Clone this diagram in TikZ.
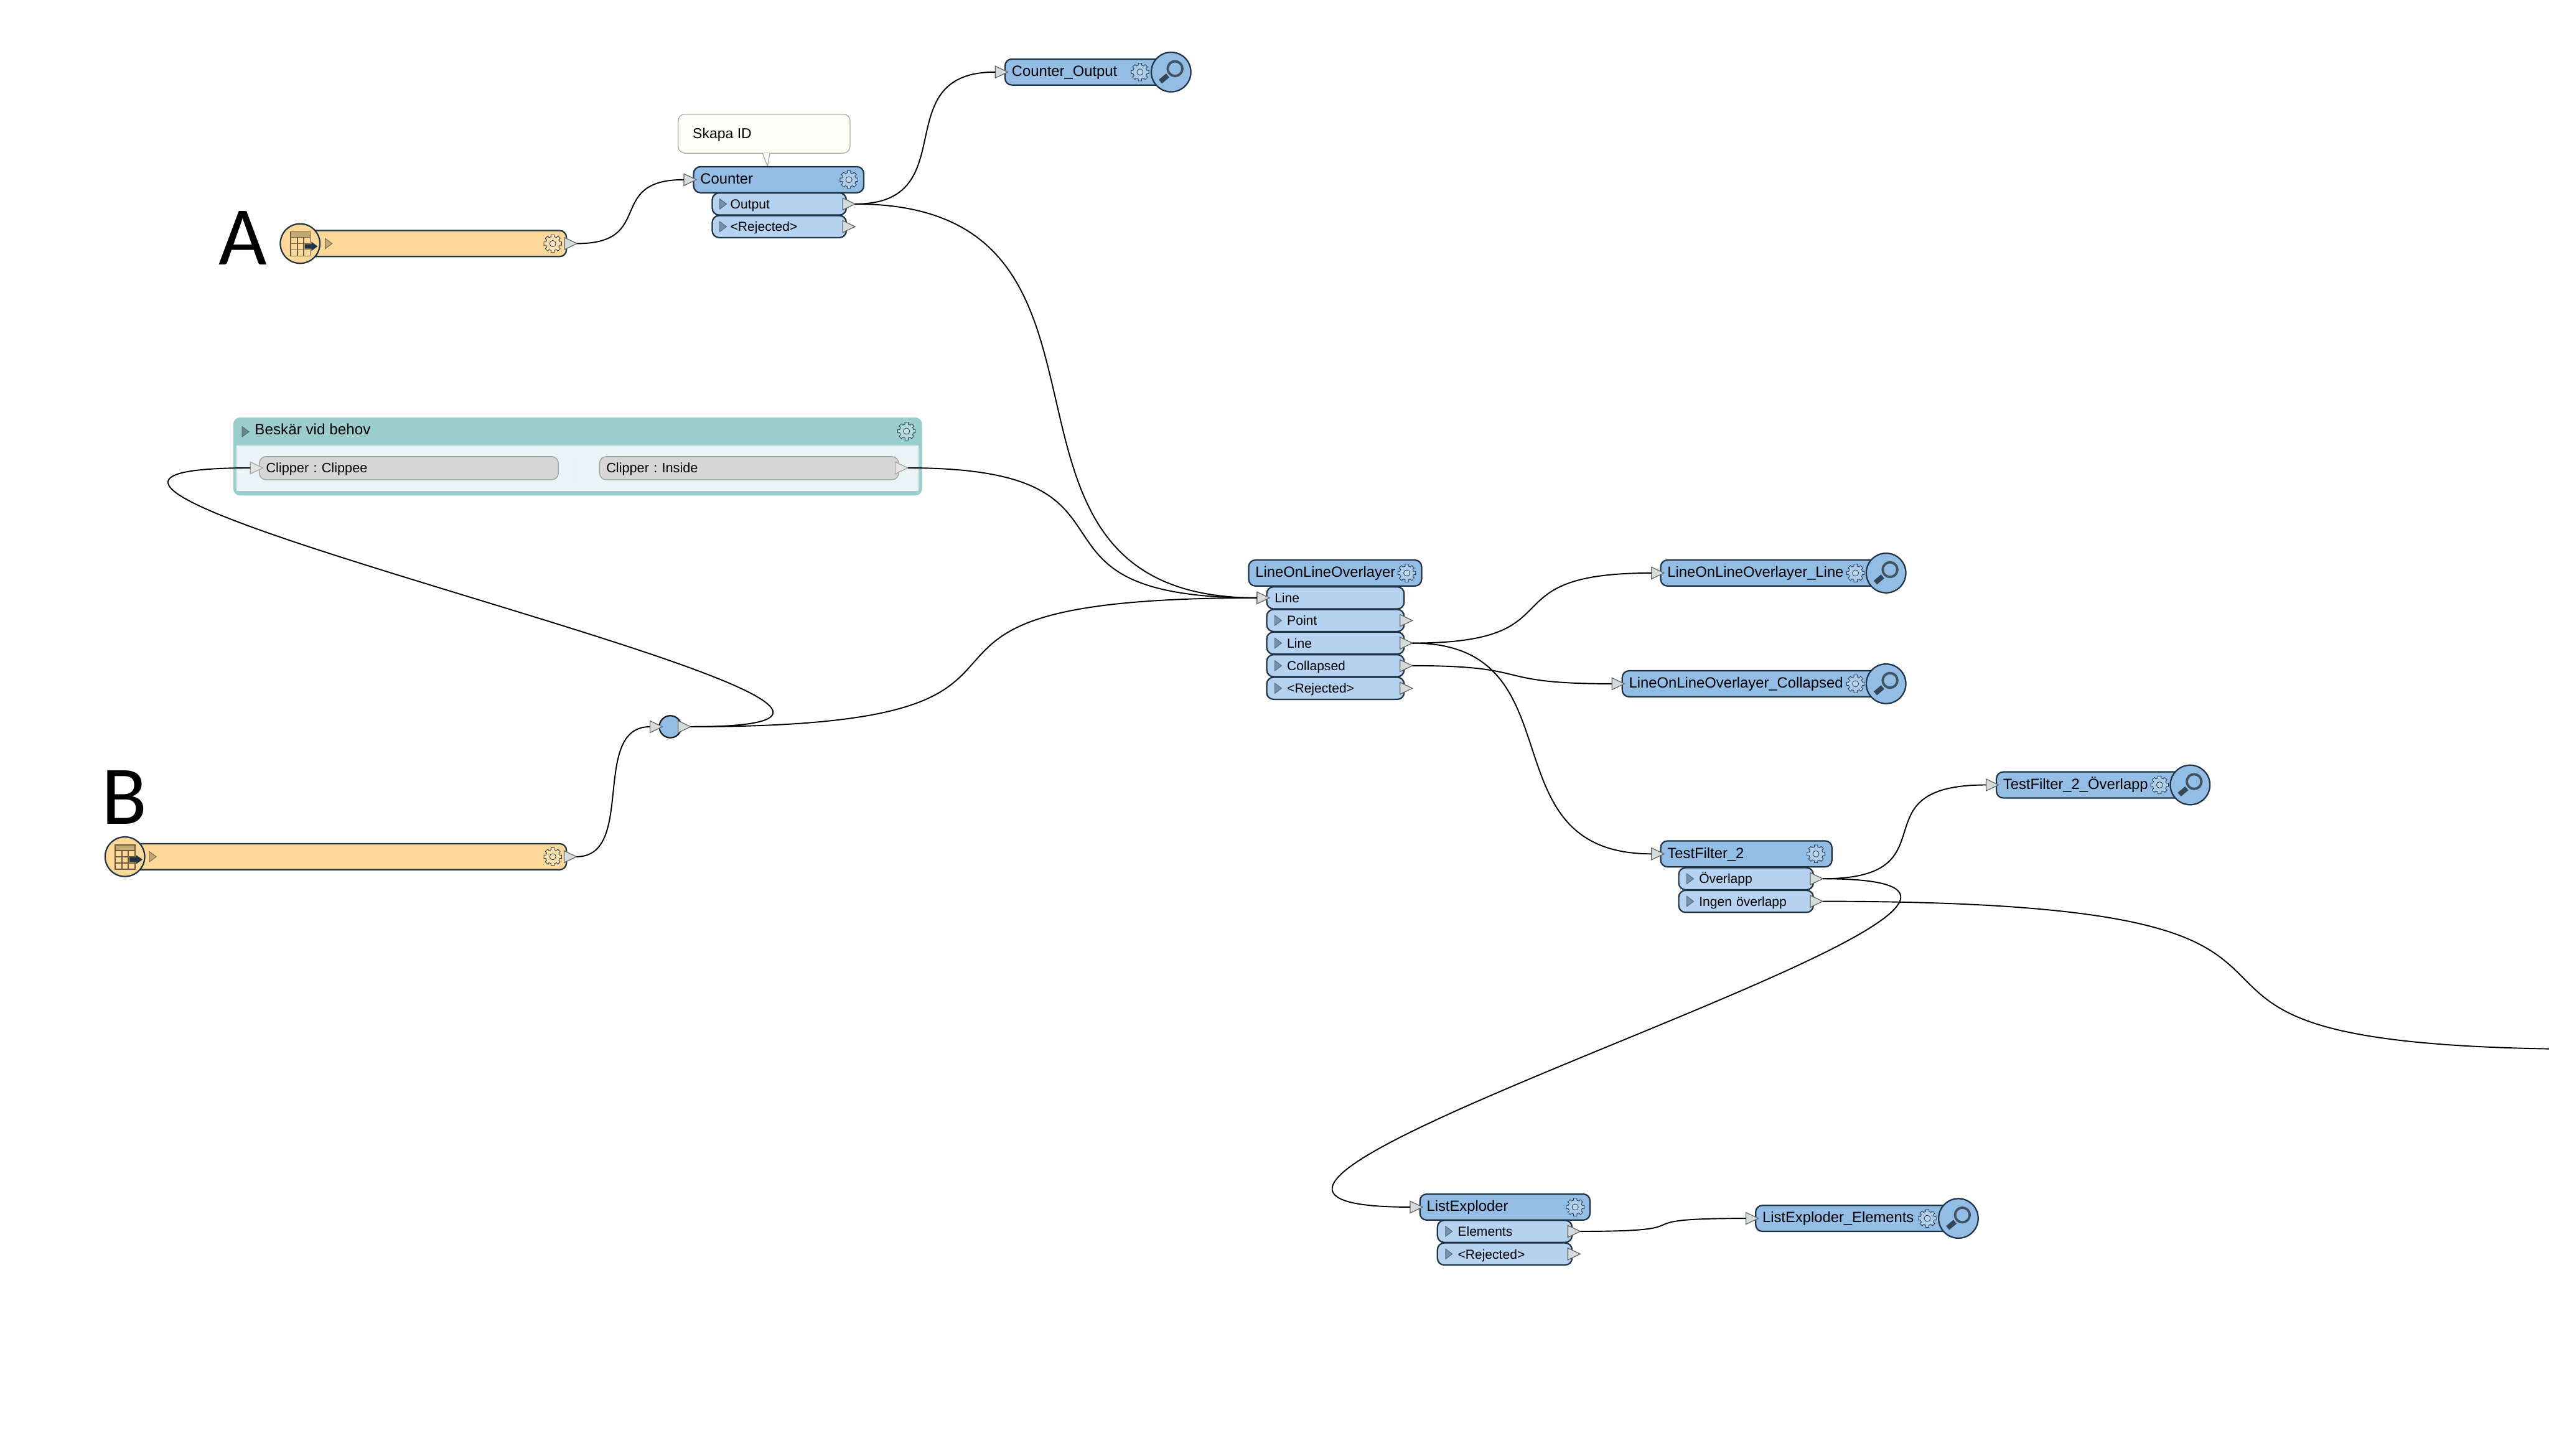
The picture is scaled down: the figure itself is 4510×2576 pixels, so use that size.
\documentclass[tikz,border=0pt]{standalone}
\usepackage{fontspec}
\setmainfont{Liberation Sans}
\newfontfamily\letterfont{Carlito}
\usepackage{tikz}
\usetikzlibrary{shapes.geometric,positioning}
\frenchspacing

\definecolor{xfblue}{HTML}{94BDE6}
\definecolor{xfport}{HTML}{B5D3F0}
\definecolor{xforange}{HTML}{FED898}
\definecolor{xfedge}{HTML}{1F3344}
\definecolor{xfteal}{HTML}{9BCDCD}
\definecolor{xfpale}{HTML}{EAF3F5}
\definecolor{xftan}{HTML}{C4A872}
\definecolor{xftip}{HTML}{D5DCDC}

\begin{document}
\begin{tikzpicture}[x=0.01cm,y=-0.01cm]

\tikzset{
  boxbase/.style={rectangle, draw=xfedge, line width=0.7pt, rounded corners=0.12cm,
                  anchor=west, inner xsep=0.12cm, inner ysep=0pt, align=left,
                  text height=0.17cm, text depth=0.02cm},
  xfhead/.style={boxbase, fill=xfblue, minimum height=0.46cm,
                  minimum width=#1*0.01cm, text width=(#1-24)*0.01cm,
                  font=\fontsize{7.45}{8}\selectfont},
  xfrow/.style={boxbase, fill=xfport, minimum height=0.39cm,
                  minimum width=#1*0.01cm, text width=(#1-24)*0.01cm,
                  text height=0.18cm, text depth=0.01cm,
                  font=\fontsize{6.6}{8}\selectfont},
  sourcebar/.style={boxbase, fill=xforange, minimum height=0.46cm, minimum width=#1*0.01cm},
  bulb/.style={circle, draw=xfedge, line width=0.7pt, minimum size=0.70cm, inner sep=0pt},
  porttip/.style={isosceles triangle, isosceles triangle stretches, shape border rotate=0,
                  minimum height=0.22cm, minimum width=0.21cm, inner sep=0pt, outer sep=0pt,
                  draw=black!60, fill=xftip, line width=0.4pt, anchor=east},
  marktip/.style={isosceles triangle, isosceles triangle stretches, shape border rotate=0,
                  minimum height=0.12cm, minimum width=0.18cm, inner sep=0pt, outer sep=0pt,
                  draw=xfedge!75, fill=xfblue!70!xfedge, line width=0.3pt},
  clipport/.style={boxbase, draw=black!38, fill=black!16, minimum height=0.41cm,
                  minimum width=5.29cm, text width=5.05cm, line width=0.4pt,
                  font=\fontsize{6.8}{8}\selectfont},
  wire/.style={black, line width=0.6pt},
  gearline/.style={draw=xfedge, fill=white, fill opacity=0.25, draw opacity=1,
                  line width=0.25pt, line join=round}
}

\newcommand{\gear}[2]{
  \begin{scope}[shift={(#1,#2)}]
    \draw[gearline] (-11:16) \foreach \a in {0,45,...,315} {
        -- ({\a-11}:16) -- ({\a+11}:16) -- ({\a+13}:12.5) -- ({\a+32}:12.5) } -- cycle;
    \draw[gearline] (0,0) circle (5.5);
  \end{scope}
}

\newcommand{\inspector}[3]{
  \node[bulb, fill=xfblue] (#1) at (#2,#3) {};
  \begin{scope}[shift={(#2,#3)}]
    \draw[color=xfedge!85, line width=1.2pt] (7,-6) circle (13);
    \draw[color=xfedge!90, line width=2.5pt] (-19,17) -- (-6,6);
  \end{scope}
}

\newcommand{\reader}[3]{
  \node[bulb, fill=xforange] (#1) at (#2,#3) {};
  \begin{scope}[shift={(#2,#3)}]
    \fill[xftan] (-17,-21) rectangle (18,-11);
    \draw[xftan!55!black, line width=0.5pt] (-17,-21) rectangle (18,22);
    \draw[xftan!55!black, line width=0.5pt] (-17,-11) -- (18,-11) (-17,0) -- (18,0) (-17,11) -- (18,11)
                                            (-5,-11) -- (-5,22) (6,-11) -- (6,22);
    \fill[xfedge] (8,1) -- (20,1) -- (20,-3) -- (31,5) -- (20,13) -- (20,9) -- (8,9) -- cycle;
  \end{scope}
}

\useasboundingbox (0,0) rectangle (4510,2576);

% Letters
\node[font=\letterfont\fontsize{42}{42}\selectfont, inner sep=0pt] (letterA) at (430,421) {A};
\node[font=\letterfont\fontsize{42}{42}\selectfont, inner sep=0pt] (letterB) at (220,1411) {B};

% Source A
\node[sourcebar=470] (sourceA) at (531,431) {};
\gear{978}{431}
\reader{readerA}{531}{431}
\node[marktip, fill=xftan, draw=xftan!60!black] (markA) at (580,431) {};
\node[porttip] (sourceAOut) at (1021,431) {};

% Source B
\node[sourcebar=780] (sourceB) at (221,1516) {};
\gear{978}{1516}
\reader{readerB}{221}{1516}
\node[marktip, fill=xftan, draw=xftan!60!black] (markB) at (269,1516) {};
\node[porttip] (sourceBOut) at (1020,1516) {};

% Junction
\node[ellipse, draw=black!90, line width=0.7pt, fill=xfblue, minimum width=0.39cm,
      minimum height=0.39cm, inner sep=0pt] (junction) at (1186,1286) {};
\node[porttip] (junctionIn) at (1172,1286) {};
\node[porttip] (junctionOut) at (1222,1286) {};

% Note
\node[rectangle, draw=black!35, fill=yellow!3, line width=0.4pt, rounded corners=0.12cm,
      minimum width=3.04cm, minimum height=0.69cm, inner sep=0pt] (skapaNote) at (1352,236.5) {};
\node[anchor=west, inner sep=0pt, font=\fontsize{7.2}{8}\selectfont] (skapaText) at (1225,238) {Skapa ID};
\draw[draw=black!35, fill=yellow!3, line width=0.4pt] (1349,271) -- (1358,294) -- (1362,271);

% Counter
\node[xfhead=301] (counter) at (1226,318) {Counter};
\gear{1502}{318}
\node[porttip] (counterIn) at (1232,318) {};
\node[xfrow=237, text width=1.73cm, inner xsep=0.32cm] (counterOutput) at (1259,361) {Output};
\node[xfrow=237, text width=1.73cm, inner xsep=0.32cm] (counterRejected) at (1259,401) {<Rejected>};
\node[marktip] at (1278,361) {};
\node[marktip] at (1278,401) {};
\node[porttip] (counterOutputTip) at (1513,361) {};
\node[porttip] (counterRejectedTip) at (1513,401) {};

% Counter_Output
\node[xfhead=295] (counterView) at (1777,127.5) {Counter\_Output};
\gear{2017}{127.5}
\inspector{counterLens}{2072}{127.5}
\node[porttip] (counterViewIn) at (1783,127.5) {};

% Bookmark
\node[rectangle, fill=xfteal, rounded corners=0.12cm, anchor=north west, minimum width=12.18cm,
      minimum height=1.38cm, inner sep=0pt] (bookmark) at (412,738) {};
\node[rectangle, fill=xfpale, anchor=north west, minimum width=12.06cm, minimum height=0.80cm,
      inner sep=0pt] (bookmarkBody) at (418,788) {};
\node[anchor=west, inner sep=0pt, font=\fontsize{7.6}{8}\selectfont] (bookmarkTitle) at (450,760) {Beskär vid behov};
\node[marktip, fill=xfteal!55!xfedge] at (433,764) {};
\gear{1604}{763}
\draw[xfteal!25, line width=0.4pt] (1021,814) -- (1021,849);
\node[clipport] (clippee) at (458,828.5) {Clipper : Clippee};
\node[clipport] (inside) at (1060,828.5) {Clipper : Inside};
\node[porttip, draw=black!35, fill=black!10] (clippeeIn) at (465,828) {};
\node[porttip, draw=black!35, fill=black!10] (insideOut) at (1606,828) {};

% LineOnLineOverlayer
\node[xfhead=306] (overlayer) at (2208,1014) {LineOnLineOverlayer};
\gear{2489}{1014}
\node[xfrow=243, inner xsep=0.14cm, text width=2.15cm] (overlayerIn) at (2240,1058) {Line};
\node[xfrow=243, inner xsep=0.36cm, text width=1.71cm] (overlayerPoint) at (2240,1098) {Point};
\node[xfrow=243, inner xsep=0.36cm, text width=1.71cm] (overlayerLine) at (2240,1138) {Line};
\node[xfrow=243, inner xsep=0.36cm, text width=1.71cm] (overlayerCollapsed) at (2240,1178) {Collapsed};
\node[xfrow=243, inner xsep=0.36cm, text width=1.71cm] (overlayerRejected) at (2240,1218) {<Rejected>};
\node[marktip] at (2260,1098) {};
\node[marktip] at (2260,1138) {};
\node[marktip] at (2260,1178) {};
\node[marktip] at (2260,1218) {};
\node[porttip] (overlayerInTip) at (2246,1058) {};
\node[porttip] (overlayerPointTip) at (2499,1098) {};
\node[porttip] (overlayerLineTip) at (2499,1138) {};
\node[porttip] (overlayerCollapsedTip) at (2499,1178) {};
\node[porttip] (overlayerRejectedTip) at (2499,1218) {};

% Overlayer views
\node[xfhead=400] (lineView) at (2937,1014) {LineOnLineOverlayer\_Line};
\gear{3283}{1014}
\inspector{lineLens}{3337}{1014}
\node[porttip] (lineViewIn) at (2944,1014) {};
\node[xfhead=468] (collapsedView) at (2869,1210) {LineOnLineOverlayer\_Collapsed};
\gear{3283}{1210}
\inspector{collapsedLens}{3337}{1210}
\node[porttip] (collapsedViewIn) at (2874,1210) {};

% TestFilter_2
\node[xfhead=303] (testFilter) at (2937,1511) {TestFilter\_2};
\gear{3213}{1511}
\node[porttip] (testFilterIn) at (2944,1511) {};
\node[xfrow=238, inner xsep=0.36cm, text width=1.66cm] (overlapRow) at (2969,1555) {Överlapp};
\node[xfrow=238, inner xsep=0.36cm, text width=1.66cm] (noOverlapRow) at (2969,1595) {Ingen överlapp};
\node[marktip] at (2989,1555) {};
\node[marktip] at (2989,1595) {};
\node[porttip] (overlapTip) at (3225,1555) {};
\node[porttip] (noOverlapTip) at (3225,1595) {};

% TestFilter_2_Overlapp
\node[xfhead=344] (overlapView) at (3531,1389) {TestFilter\_2\_Överlapp};
\gear{3821}{1389}
\inspector{overlapLens}{3875}{1389}
\node[porttip] (overlapViewIn) at (3536,1389) {};

% ListExploder
\node[xfhead=301] (exploder) at (2511,2136) {ListExploder};
\gear{2787}{2136}
\node[porttip] (exploderIn) at (2517,2136) {};
\node[xfrow=238, inner xsep=0.36cm, text width=1.66cm] (elementsRow) at (2542,2179) {Elements};
\node[xfrow=238, inner xsep=0.36cm, text width=1.66cm] (exploderRejected) at (2542,2219) {<Rejected>};
\node[marktip] at (2562,2179) {};
\node[marktip] at (2562,2219) {};
\node[porttip] (elementsTip) at (2796,2179) {};
\node[porttip] (exploderRejectedTip) at (2796,2219) {};

% ListExploder_Elements
\node[xfhead=360] (elementsView) at (3105,2156) {ListExploder\_Elements};
\gear{3410}{2156}
\inspector{elementsLens}{3465}{2156}
\node[porttip] (elementsViewIn) at (3111,2156) {};

% Lines
\coordinate (pageEdge) at (4510,1856);
\draw[wire] (sourceAOut.east) .. controls +(140,0) and +(-140,0) .. (counterIn.west);
\draw[wire] (counterOutputTip.east) .. controls +(197,0) and +(-197,0) .. (counterViewIn.west);
\draw[wire] (counterOutputTip.east) .. controls +(550,0) and +(-550,0) .. (overlayerInTip.west);
\draw[wire] (insideOut.east) .. controls +(465,0) and +(-465,0) .. (overlayerInTip.west);
\draw[wire] (junctionOut.east) .. controls +(800,0) and +(-800,0) .. (overlayerInTip.west);
\draw[wire] (junctionOut.east) .. controls +(720,0) and +(-720,0) .. (clippeeIn.west);
\draw[wire] (sourceBOut.east) .. controls +(106,0) and +(-106,0) .. (junctionIn.west);
\draw[wire] (overlayerLineTip.east) .. controls +(300,0) and +(-300,0) .. (lineViewIn.west);
\draw[wire] (overlayerLineTip.east) .. controls +(300,0) and +(-300,0) .. (testFilterIn.west);
\draw[wire] (overlayerCollapsedTip.east) .. controls +(220,0) and +(-220,0) .. (collapsedViewIn.west);
\draw[wire] (overlapTip.east) .. controls +(237,0) and +(-237,0) .. (overlapViewIn.west);
\draw[wire] (overlapTip.east) .. controls +(680,0) and +(-680,0) .. (exploderIn.west);
\draw[wire] (noOverlapTip.east) .. controls +(1145,0) and +(-903,-15) .. (pageEdge);
\draw[wire] (elementsTip.east) .. controls +(240,0) and +(-240,0) .. (elementsViewIn.west);

\end{tikzpicture}
\end{document}
